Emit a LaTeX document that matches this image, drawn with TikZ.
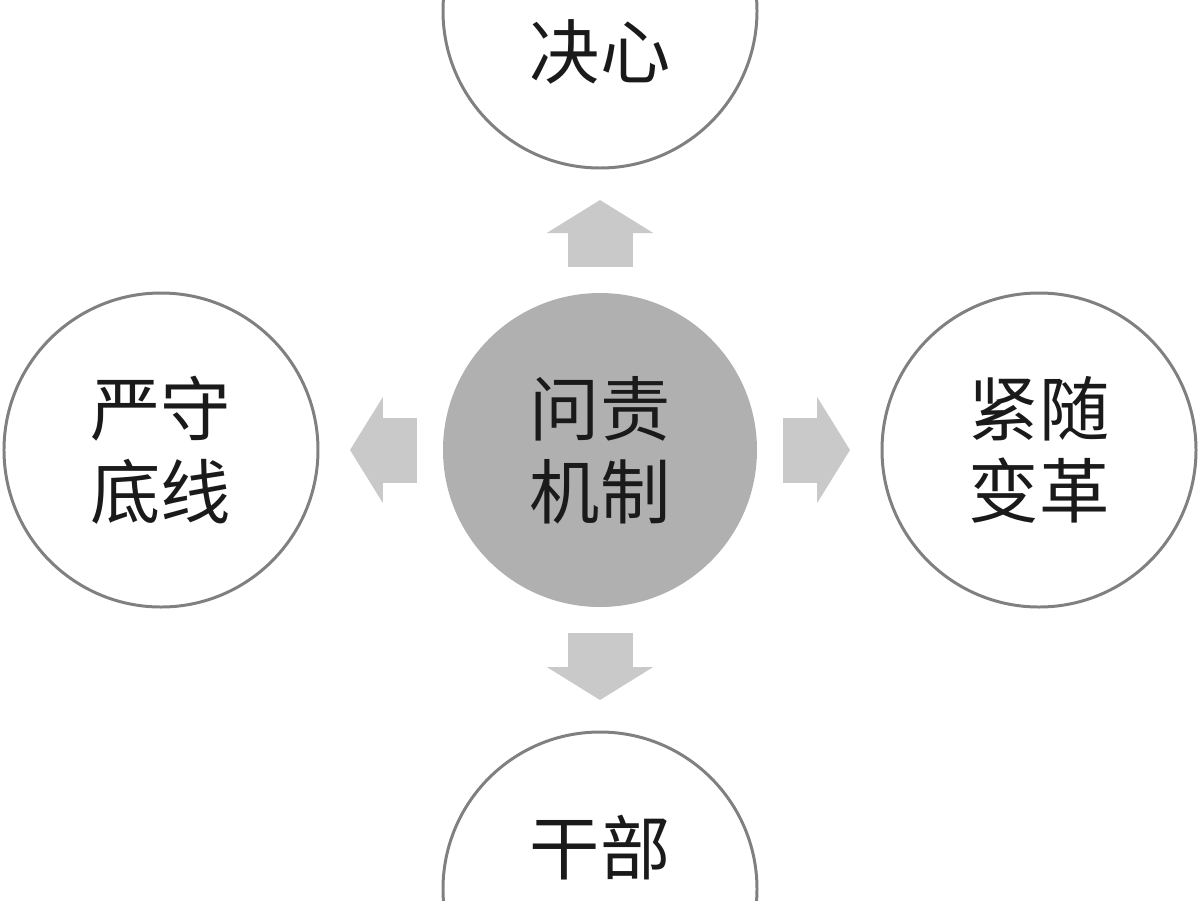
\documentclass[tikz,border=0pt]{standalone}
\usepackage{fontspec}
\newfontfamily\cjkfont{Noto Sans CJK SC}
\usetikzlibrary{arrows.meta,positioning}
\definecolor{rimgray}{HTML}{808080}
\definecolor{hubgray}{HTML}{B0B0B0}
\definecolor{arrowgray}{HTML}{C9C9C9}
\definecolor{inkgray}{HTML}{1A1A1A}
\tikzset{
  hubcircle/.style={circle,fill=hubgray,minimum size=6.28cm,inner sep=0pt,outer sep=0pt,align=center,text=inkgray},
  goalcircle/.style={circle,draw=rimgray,line width=1.7pt,fill=white,minimum size=6.28cm,inner sep=0pt,outer sep=0pt,align=center,text=inkgray},
  blockarrow/.style={-{Triangle[length=0.66cm,width=2.1cm]},line width=1.3cm,draw=arrowgray,shorten <=0.52cm,shorten >=0.64cm}
}

\begin{document}
\begin{tikzpicture}[node distance=2.5cm, every node/.style={font=\cjkfont\fontsize{40pt}{47pt}\selectfont}]
\useasboundingbox (-12,-9) rectangle (12,9);
\clip (-12,-9) rectangle (12,9);
\node[hubcircle] (hub) {问责\\机制};
\node[goalcircle, above=of hub] (resolve) {\phantom{决心}\\决心};
\node[goalcircle, left=of hub] (bottomline) {严守\\底线};
\node[goalcircle, right=of hub] (reform) {紧随\\变革};
\node[goalcircle, below=of hub] (cadre) {干部\\\phantom{干部}};
\draw[blockarrow] (hub)--(resolve);
\draw[blockarrow] (hub)--(bottomline);
\draw[blockarrow] (hub)--(reform);
\draw[blockarrow] (hub)--(cadre);
\end{tikzpicture}
\end{document}
